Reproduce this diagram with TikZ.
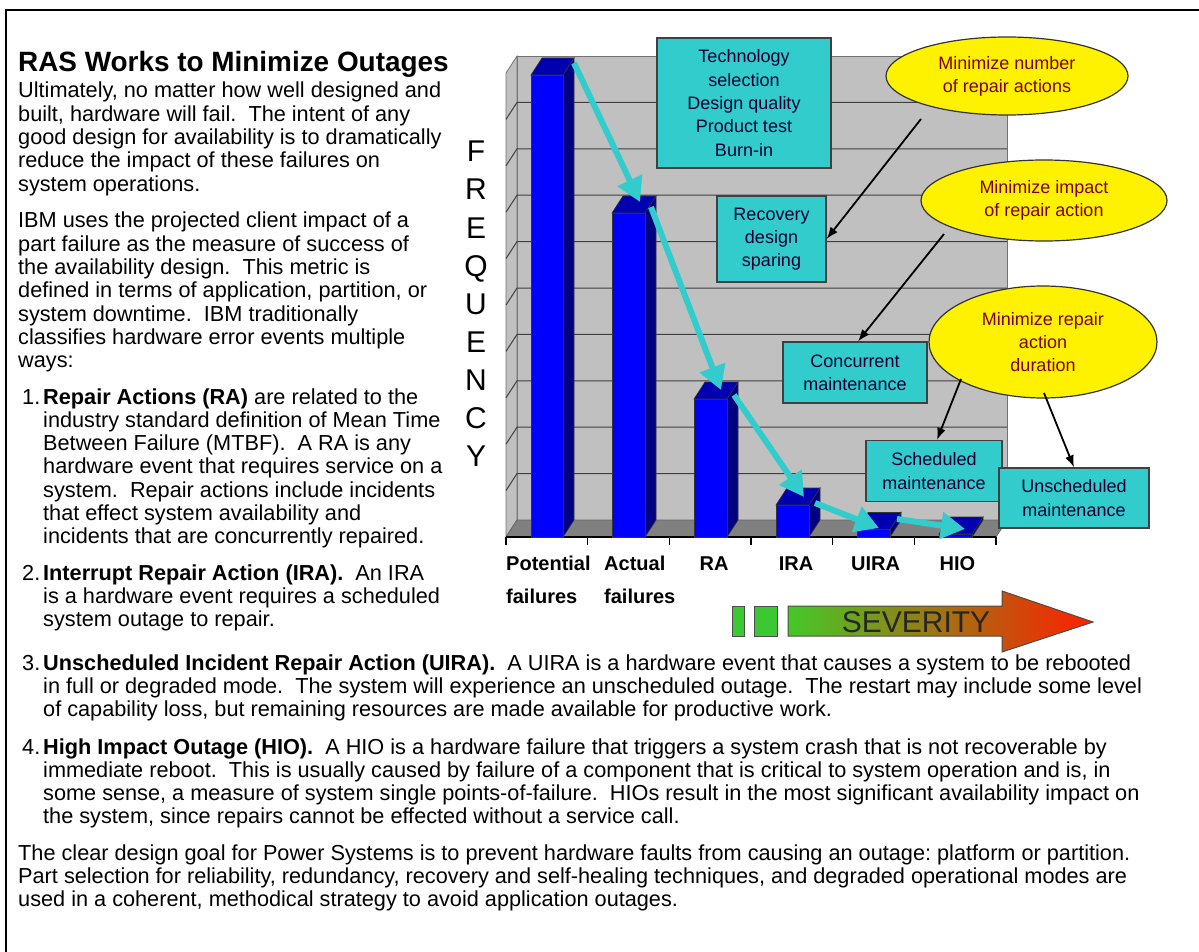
\documentclass[tikz,border=0pt]{standalone}
\usepackage{fontspec}
\setmainfont{Liberation Sans}
\usetikzlibrary{arrows.meta,shapes.geometric}
\definecolor{wallgray}{RGB}{192,192,192}
\definecolor{floorgray}{RGB}{128,128,128}
\definecolor{barblue}{RGB}{0,0,255}
\definecolor{bartopc}{RGB}{0,0,176}
\definecolor{barsidec}{RGB}{0,0,128}
\definecolor{boxcyan}{RGB}{51,204,204}
\definecolor{boxtext}{RGB}{0,0,51}
\definecolor{ovaltext}{RGB}{128,0,0}
\definecolor{sevgreen}{RGB}{68,200,40}
\definecolor{sevmid}{RGB}{200,100,20}
\definecolor{sevred}{RGB}{255,30,0}
\definecolor{smallgreen}{RGB}{60,200,50}

% one 3-D column: left x, right x, top y of the front face
\newcommand\cbar[3]{%
  \filldraw[fill=barsidec, draw=black!80, line width=0.6pt]
    (#2,537) -- (#2,#3) -- ({#2+11},{#3-17}) -- ({#2+11},520) -- cycle;
  \filldraw[fill=barblue, draw=black!80, line width=0.6pt] (#1,537) rectangle (#2,#3);
  \filldraw[fill=bartopc, draw=black!80, line width=0.6pt]
    (#1,#3) -- (#2,#3) -- ({#2+11},{#3-17}) -- ({#1+11},{#3-17}) -- cycle;
}
% one text line set at its baseline
\newcommand\TL[4]{\node[bodytxt] (#1) at (#2,#3) {#4};}

\begin{document}
\frenchspacing
\begin{tikzpicture}[x=1pt, y=-1pt,
  bodytxt/.style={anchor=base west, inner sep=0pt, font=\fontsize{21.7}{23.3}\selectfont},
  cyanbox/.style={draw=black!75, line width=1.2pt, fill=boxcyan, text=boxtext,
    align=center, inner sep=0pt, font=\fontsize{18}{23.3}\selectfont},
  oval/.style={ellipse, draw=black!80, line width=1.2pt, fill=yellow, text=ovaltext,
    align=center, inner sep=0pt, font=\fontsize{18}{23.3}\selectfont},
  flowarrow/.style={draw=boxcyan, line width=6pt, -{Triangle[length=24pt,width=26pt]}},
  callout/.style={draw=black, line width=1.8pt, -{Latex[length=12pt,width=9pt]}},
  catlabel/.style={inner sep=0pt, font=\fontsize{20}{23}\selectfont\bfseries},
  freq/.style={anchor=base, inner sep=0pt, font=\fontsize{30}{30}\selectfont},
  gridline/.style={draw=black!75, line width=1pt}]

\useasboundingbox (0,0) rectangle (1199,952);
\fill[white] (0,0) rectangle (1199,952);

% frame
\draw[line width=2pt] (6,952) -- (6,9.7) -- (1199,9.7);

% ---------- left column text ----------
\node[anchor=base west, inner sep=0pt, font=\fontsize{27.9}{30}\selectfont\bfseries] (title) at (18,71.7)
  {RAS Works to Minimize Outages};
\TL{p1a}{18}{98.0}{Ultimately, no matter how well designed and}
\TL{p1b}{18}{121.3}{built, hardware will fail.~ The intent of any}
\TL{p1c}{18}{144.6}{good design for availability is to dramatically}
\TL{p1d}{18}{167.9}{reduce the impact of these failures on}
\TL{p1e}{18}{191.2}{system operations.}
\TL{p2a}{18}{228.0}{IBM uses the projected client impact of a}
\TL{p2b}{18}{251.3}{part failure as the measure of success of}
\TL{p2c}{18}{274.6}{the availability design.~ This metric is}
\TL{p2d}{18}{297.9}{defined in terms of application, partition, or}
\TL{p2e}{18}{321.2}{system downtime.~ IBM traditionally}
\TL{p2f}{18}{344.5}{classifies hardware error events multiple}
\TL{p2g}{18}{367.8}{ways:}
\TL{n1}{22}{404.0}{1.}
\TL{i1a}{43}{404.0}{\textbf{Repair Actions (RA)} are related to the}
\TL{i1b}{43}{427.3}{industry standard definition of Mean Time}
\TL{i1c}{43}{450.6}{Between Failure (MTBF).~ A RA is any}
\TL{i1d}{43}{473.9}{hardware event that requires service on a}
\TL{i1e}{43}{497.2}{system.~ Repair actions include incidents}
\TL{i1f}{43}{520.5}{that effect system availability and}
\TL{i1g}{43}{543.8}{incidents that are concurrently repaired.}
\TL{n2}{22}{580.0}{2.}
\TL{i2a}{43}{580.0}{\textbf{Interrupt Repair Action (IRA).}~ An IRA}
\TL{i2b}{43}{603.3}{is a hardware event requires a scheduled}
\TL{i2c}{43}{626.6}{system outage to repair.}

% ---------- full-width text ----------
\TL{n3}{22}{670.0}{3.}
\TL{i3a}{43}{670.0}{\textbf{Unscheduled Incident Repair Action (UIRA).}~ A UIRA is a hardware event that causes a system to be rebooted}
\TL{i3b}{43}{693.3}{in full or degraded mode.~ The system will experience an unscheduled outage.~ The restart may include some level}
\TL{i3c}{43}{716.6}{of capability loss, but remaining resources are made available for productive work.}
\TL{n4}{22}{754.0}{4.}
\TL{i4a}{43}{754.0}{\textbf{High Impact Outage (HIO).}~ A HIO is a hardware failure that triggers a system crash that is not recoverable by}
\TL{i4b}{43}{777.3}{immediate reboot.~ This is usually caused by failure of a component that is critical to system operation and is, in}
\TL{i4c}{43}{800.6}{some sense, a measure of system single points-of-failure.~ HIOs result in the most significant availability impact on}
\TL{i4d}{43}{823.9}{the system, since repairs cannot be effected without a service call.}
\TL{f1}{18}{860.0}{The clear design goal for Power Systems is to prevent hardware faults from causing an outage: platform or partition.}
\TL{f2}{18}{883.3}{Part selection for reliability, redundancy, recovery and self-healing techniques, and degraded operational modes are}
\TL{f3}{18}{906.6}{used in a coherent, methodical strategy to avoid application outages.}

% ---------- chart walls and floor ----------
\filldraw[fill=wallgray, draw=black!55, line width=0.8pt] (517,56) rectangle (1007,520);
\filldraw[fill=wallgray, draw=black!55, line width=0.8pt] (506,73) -- (517,56) -- (517,520) -- (506,537) -- cycle;
\foreach \k in {1,...,9} {
  \draw[gridline] (506,{73+46.4*\k}) -- (517,{56+46.4*\k}) -- (1007,{56+46.4*\k});
}
\filldraw[fill=floorgray, draw=black!60, line width=0.8pt] (506,537) -- (517,520) -- (1007,520) -- (996,537) -- cycle;
\draw[line width=1.4pt] (506,537) -- (996,537);
\foreach \k in {0,...,6} { \draw[line width=1.4pt] ({506+81.67*\k},537) -- ({506+81.67*\k},545); }

% ---------- columns ----------
\cbar{531}{563}{75}
\cbar{612}{645}{213}
\cbar{694}{727}{399}
\cbar{776}{809}{505}
\cbar{857}{890}{529.5}
\cbar{939}{972}{534}

% ---------- axis labels ----------
\node[catlabel, anchor=base west] (cpot) at (506,570.7) {Potential};
\node[catlabel, anchor=base west] (cpot2) at (506,603.3) {failures};
\node[catlabel, anchor=base west] (cact) at (604,570.7) {Actual};
\node[catlabel, anchor=base west] (cact2) at (604,603.3) {failures};
\node[catlabel, anchor=base] (cra) at (714,570.7) {RA};
\node[catlabel, anchor=base] (cira) at (796,570.7) {IRA};
\node[catlabel, anchor=base] (cuira) at (875.5,570.7) {UIRA};
\node[catlabel, anchor=base] (chio) at (957.5,570.7) {HIO};

\foreach \L [count=\i] in {F,R,E,Q,U,E,N,C,Y}
  \node[freq] (fq\i) at (476,{162+38*(\i-1)}) {\L};

% ---------- flow between the columns ----------
\coordinate (s1) at (574,63);   \coordinate (e1t) at (640,202);
\coordinate (s2) at (651,207);  \coordinate (e2t) at (721,390);
\coordinate (s3) at (734,395);  \coordinate (e3t) at (804,497);
\coordinate (s4) at (815,503);  \coordinate (e4t) at (879,528);
\coordinate (s5) at (897,519);  \coordinate (e5t) at (965,529);
\draw[flowarrow] (s1) -- (e1t);
\draw[flowarrow] (s2) -- (e2t);
\draw[flowarrow] (s3) -- (e3t);
\draw[flowarrow] (s4) -- (e4t);
\draw[flowarrow] (s5) -- (e5t);

% ---------- boxes and ovals ----------
\node[cyanbox, minimum width=174pt, minimum height=130pt] (tech) at (744,103)
  {Technology\\selection\\Design quality\\Product test\\Burn-in};
\node[cyanbox, minimum width=109pt, minimum height=86pt] (rec) at (771.5,239)
  {Recovery\\design\\sparing};
\node[cyanbox, minimum width=144pt, minimum height=61pt] (conc) at (855,372.5)
  {Concurrent\\maintenance};
\node[cyanbox, minimum width=136pt, minimum height=61pt] (sched) at (934,471)
  {Scheduled\\maintenance};
\node[cyanbox, minimum width=150pt, minimum height=60pt] (unsched) at (1074,498)
  {Unscheduled\\maintenance};

\node[oval, minimum width=242pt, minimum height=78pt] (ov1) at (1007,76)
  {Minimize number\\of repair actions};
\node[oval, minimum width=246pt, minimum height=81pt] (ov2) at (1044,200.5)
  {Minimize impact\\of repair action};
\node[oval, minimum width=228pt, minimum height=112pt] (ov3) at (1043,342)
  {Minimize repair\\action\\duration};

\coordinate (c1) at (921,119);
\coordinate (c2) at (944,234);
\coordinate (c3) at (961,379);
\coordinate (c4) at (1044,393);
\draw[callout] (c1) -- (rec.east);
\draw[callout] (c2) -- ([xshift=3pt]conc.north);
\draw[callout] (c3) -- ([xshift=3pt]sched.north);
\draw[callout] (c4) -- (unsched.north);

% ---------- severity scale ----------
\filldraw[fill=smallgreen, draw=black!70, line width=1pt] (732,606) rectangle (744,636);
\filldraw[fill=smallgreen, draw=black!70, line width=1pt] (754,606) rectangle (777,636);
\path[draw=black!70, line width=1pt, left color=sevgreen, middle color=sevmid, right color=sevred]
  (788,606) -- (1002,606) -- (1002,591) -- (1093,622) -- (1002,652) -- (1002,636) -- (788,636) -- cycle;
\node[anchor=base, inner sep=0pt, font=\fontsize{30}{30}\selectfont, text=black!85] (sev) at (916,632.7) {SEVERITY};

\end{tikzpicture}
\end{document}
